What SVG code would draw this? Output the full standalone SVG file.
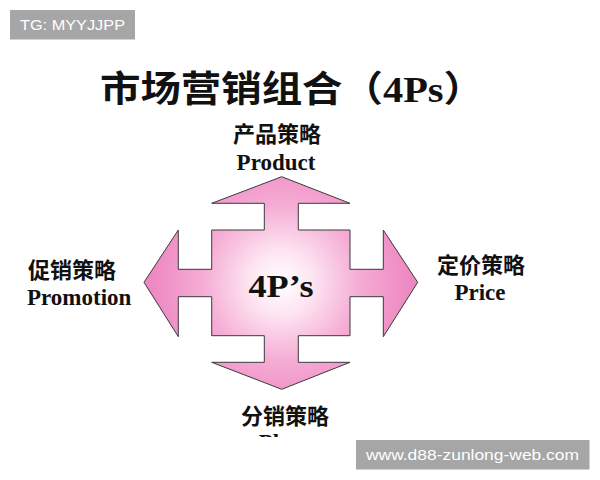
<svg xmlns="http://www.w3.org/2000/svg" width="600" height="480" viewBox="0 0 600 480">
  <defs>
    <radialGradient id="pinkGrad" gradientUnits="userSpaceOnUse" cx="281" cy="283" r="130">
      <stop offset="0" stop-color="#ffffff"/>
      <stop offset="0.25" stop-color="#fde4f1"/>
      <stop offset="0.6" stop-color="#f5acd4"/>
      <stop offset="1" stop-color="#ee88c2"/>
    </radialGradient>
    <clipPath id="cut">
      <rect x="0" y="0" width="600" height="437"/>
    </clipPath>
    <style>
      .cjk { font-family: "Liberation Serif", "Noto Sans CJK SC", serif; font-weight: bold; fill: #111; }
      .lat { font-family: "Liberation Serif", serif; font-weight: bold; fill: #111; }
      .wm-bg { fill: #a6a6a6; }
      .wm-tx { font-family: "Liberation Sans", Arial, sans-serif; fill: #ffffff; font-size: 15px; }
    </style>
  </defs>
  <rect width="600" height="480" fill="#ffffff"/>

  <g id="title">
    <text class="cjk" x="100" y="102" font-size="36" textLength="384" lengthAdjust="spacingAndGlyphs">市场营销组合（4Ps）</text>
  </g>

  <g id="center-shape">
    <path d="M281.7,176.7 L350,203.3 L298.3,203.3 L298.3,230 L350,230 L350,269.3 L383.3,269.3 L383.3,230 L417.7,282.3 L383.3,336.7 L383.3,296.7 L350,296.7 L350,335.7 L298.3,335.7 L298.3,362.3 L350,362.3 L281.7,389.3 L211.7,362.3 L264.3,362.3 L264.3,335.7 L211.7,335.7 L211.7,296.7 L178.3,296.7 L178.3,336.7 L144,282.3 L178.3,230 L178.3,269.3 L211.7,269.3 L211.7,230 L264.3,230 L264.3,203.3 L211.7,203.3 Z" fill="url(#pinkGrad)" stroke="#3a3a3a" stroke-width="1"/>
    <text class="lat" x="281" y="296.5" font-size="32" text-anchor="middle" textLength="65" lengthAdjust="spacingAndGlyphs">4P’s</text>
  </g>

  <g id="product">
    <text class="cjk" x="277" y="142" font-size="22" text-anchor="middle">产品策略</text>
    <text class="lat" x="276" y="170" font-size="23" text-anchor="middle">Product</text>
  </g>

  <g id="promotion">
    <text class="cjk" x="28" y="278" font-size="22">促销策略</text>
    <text class="lat" x="27" y="305" font-size="23">Promotion</text>
  </g>

  <g id="price">
    <text class="cjk" x="481" y="273" font-size="22" text-anchor="middle">定价策略</text>
    <text class="lat" x="480" y="300" font-size="23" text-anchor="middle">Price</text>
  </g>

  <g id="place">
    <text class="cjk" x="285" y="424" font-size="22" text-anchor="middle">分销策略</text>
    <g clip-path="url(#cut)">
      <text class="lat" x="285" y="450" font-size="23" text-anchor="middle">Place</text>
    </g>
  </g>

  <g id="watermark-top">
    <rect class="wm-bg" x="10" y="10" width="125" height="29.5"/>
    <text class="wm-tx" x="20" y="30" textLength="105" lengthAdjust="spacingAndGlyphs">TG: MYYJJPP</text>
  </g>

  <g id="watermark-bottom">
    <rect class="wm-bg" x="356" y="440" width="233.5" height="29.5"/>
    <text class="wm-tx" x="366" y="460" textLength="213" lengthAdjust="spacingAndGlyphs">www.d88-zunlong-web.com</text>
  </g>
</svg>
